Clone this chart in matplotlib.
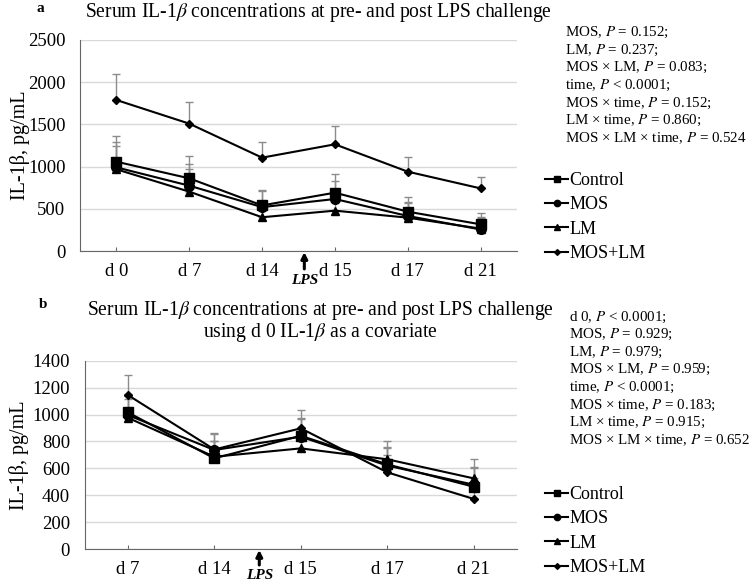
# ---------- IL-1beta line charts, panels a and b ---------- #
import numpy as np
import matplotlib.pyplot as plt
from matplotlib.lines import Line2D

plt.rcParams['font.family'] = ['Liberation Serif', 'DejaVu Serif']
plt.rcParams['mathtext.fontset'] = 'stix'

# ---------- Data ---------- #
groups = ['Control', 'MOS', 'LM', 'MOS+LM']
markers = ['s', 'o', '^', 'D']
msizes = [7, 7, 6, 4.5]

days_a = ['d 0', 'd 7', 'd 14', 'd 15', 'd 17', 'd 21']
mean_a = {
    'Control': [1058, 861, 540, 691, 466, 316],
    'MOS':     [991, 774, 520, 616, 415, 255],
    'LM':      [968, 703, 400, 478, 395, 265],
    'MOS+LM':  [1789, 1509, 1106, 1264, 940, 742],
}
se_a = {
    'Control': [308, 261, 179, 221, 177, 138],
    'MOS':     [297, 260, 190, 217, 160, 144],
    'LM':      [280, 265, 196, 210, 177, 130],
    'MOS+LM':  [305, 260, 189, 213, 177, 135],
}

days_b = ['d 7', 'd 14', 'd 15', 'd 17', 'd 21']
mean_b = {
    'Control': [1016, 674, 842, 629, 463],
    'MOS':     [996, 736, 835, 620, 478],
    'LM':      [976, 686, 748, 667, 525],
    'MOS+LM':  [1145, 740, 897, 570, 372],
}
se_b = {
    'Control': [140, 131, 134, 127, 140],
    'MOS':     [140, 120, 130, 130, 132],
    'LM':      [140, 120, 130, 136, 144],
    'MOS+LM':  [146, 120, 136, 131, 135],
}

stats_a = ['MOS, $P$ = 0.152;', 'LM, $P$ = 0.237;', 'MOS × LM, $P$ = 0.083;',
           'time, $P$ < 0.0001;', 'MOS × time, $P$ = 0.152;', 'LM × time, $P$ = 0.860;',
           'MOS × LM × time, $P$ = 0.524']
stats_b = ['d 0, $P$ < 0.0001;', 'MOS, $P$ = 0.929;', 'LM, $P$ = 0.979;',
           'MOS × LM, $P$ = 0.959;', 'time, $P$ < 0.0001;', 'MOS × time, $P$ = 0.183;',
           'LM × time, $P$ = 0.915;', 'MOS × LM × time, $P$ = 0.652']

W, H = 755, 588
fig = plt.figure(figsize=(W / 100, H / 100), dpi=100)


def px_axes(left, top, right, bottom):
    return fig.add_axes([left / W, 1 - bottom / H, (right - left) / W, (bottom - top) / H])


def draw_panel(ax, days, means, ses, ymax, ystep, lps_x):
    x = np.arange(len(days))
    for g in groups:
        err = np.array(ses[g])
        ax.errorbar(x, means[g], yerr=[np.zeros_like(err), err], fmt='none',
                    ecolor='#8c8c8c', elinewidth=1, capsize=3, zorder=2)
    for g, m, ms in zip(groups, markers, msizes):
        ax.plot(x, means[g], color='black', lw=1.5, marker=m, ms=ms, zorder=3)
    ax.set_xlim(-0.5, len(days) - 0.5)
    ax.set_ylim(0, ymax)
    ax.set_yticks(np.arange(0, ymax + 1, ystep))
    ax.set_xticks(x)
    ax.set_xticklabels(days, fontsize=13.5)
    ax.tick_params(axis='y', length=0, labelsize=13.5, pad=10.5)
    ax.tick_params(axis='x', direction='in', length=3, color='#666666', pad=9)
    ax.yaxis.grid(True, color='#d9d9d9', lw=1)
    ax.set_axisbelow(True)
    for s in ['top', 'right']:
        ax.spines[s].set_visible(False)
    for s in ['left', 'bottom']:
        ax.spines[s].set_color('#666666')
    ax.set_ylabel('IL-1β, pg/mL', fontsize=14.5)
    # LPS arrow
    ax.annotate('', xy=(lps_x, -0.005), xycoords=('data', 'axes fraction'),
                xytext=(lps_x, -0.085), textcoords=('data', 'axes fraction'),
                arrowprops=dict(arrowstyle='-|>', color='black', lw=2.2,
                                mutation_scale=9, shrinkA=0, shrinkB=0))
    ax.text(lps_x, -0.14, 'LPS', transform=ax.get_xaxis_transform(), ha='center', va='center',
            fontsize=11, fontweight='bold', fontstyle='italic')
    # legend with small markers, as in the original
    handles = [Line2D([], [], color='black', lw=1.5, marker=m, ms=ms * 0.65, label=g)
               for g, m, ms in zip(groups, markers, msizes)]
    return handles


def add_legend(ax, handles, top_px):
    ax.legend(handles=handles, loc='upper left', bbox_to_anchor=(538 / W, 1 - top_px / H),
              bbox_transform=fig.transFigure, frameon=False, fontsize=13,
              handlelength=1.25, handletextpad=0.1, labelspacing=0.4, borderaxespad=0)


# ---------- Panel a ---------- #
ax_a = px_axes(80, 40, 517, 251)
h_a = draw_panel(ax_a, days_a, mean_a, se_a, 2500, 500, 2.58)
ax_a.yaxis.set_label_coords(-0.115, 0.5)
fig.text(40 / W, 1 - 8 / H, 'a', fontsize=11, fontweight='bold', ha='center', va='center')
fig.text(318 / W, 1 - 13 / H, r'Serum IL-1$\beta$ concentrations at pre- and post LPS challenge',
         fontsize=14.1, ha='center', va='center')
for i, s in enumerate(stats_a):
    fig.text(565 / W, 1 - (32.3 + 17.7 * i) / H, s, fontsize=10.8, ha='left', va='center')
add_legend(ax_a, h_a, 165)

# ---------- Panel b ---------- #
ax_b = px_axes(84.6, 360.7, 517, 549)
h_b = draw_panel(ax_b, days_b, mean_b, se_b, 1400, 200, 1.52)
ax_b.yaxis.set_label_coords(-0.128, 0.5)
fig.text(43 / W, 1 - 305 / H, 'b', fontsize=11, fontweight='bold', ha='center', va='center')
fig.text(320 / W, 1 - 310 / H, r'Serum IL-1$\beta$ concentrations at pre- and post LPS challenge',
         fontsize=14.1, ha='center', va='center')
fig.text(320 / W, 1 - 333 / H, r'using d 0 IL-1$\beta$ as a covariate',
         fontsize=14.1, ha='center', va='center')
for i, s in enumerate(stats_b):
    fig.text(569 / W, 1 - (317 + 17.6 * i) / H, s, fontsize=10.8, ha='left', va='center')
add_legend(ax_b, h_b, 479)

fig.savefig('out.png', dpi=100)
